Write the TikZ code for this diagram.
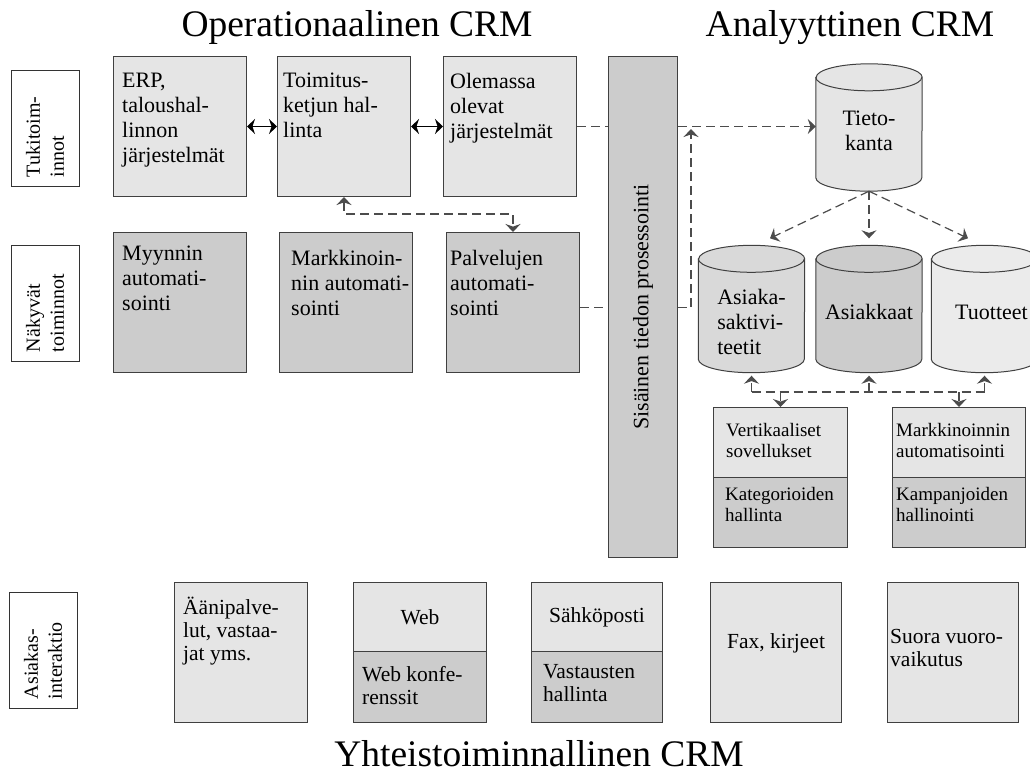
\documentclass[tikz,border=0pt]{standalone}
\usepackage{fontspec}
\setmainfont{Liberation Serif}
\usetikzlibrary{arrows.meta}

\definecolor{boxlight}{gray}{0.9}
\definecolor{boxmid}{gray}{0.8}
\definecolor{dbgray}{gray}{0.85}
\definecolor{dblight}{gray}{0.92}

\begin{document}
\begin{tikzpicture}[x=1pt,y=-1pt,
  >={Stealth[length=8pt,width=15pt]},
  box/.style={draw=black!75, line width=1pt, anchor=north west, inner sep=0pt,
    minimum width=133pt, minimum height=140pt},
  halfbox/.style={box, minimum height=70pt},
  db/.style={inner sep=0pt, minimum width=106pt, minimum height=127pt},
  side/.style={draw=black!80, line width=1pt, rotate=90, align=left,
    inner xsep=9pt, text width=98pt, minimum height=68pt,
    font=\fontsize{20}{24}\selectfont},
  txt/.style={anchor=north west, align=left, inner sep=0pt,
    font=\fontsize{22}{25}\selectfont},
  smalltxt/.style={txt, font=\fontsize{19}{21}\selectfont},
  lowtxt/.style={txt, font=\fontsize{21.5}{23}\selectfont},
  title/.style={anchor=base, font=\fontsize{37.5}{40}\selectfont},
  dashline/.style={draw=black!70, line width=1.2pt, dash pattern=on 9pt off 5pt},
  solidline/.style={draw=black, line width=1pt}]

\path[fill=white, use as bounding box] (0,0) rectangle (1030,774);

% titles
\node[title] (opcrm) at (357,36) {Operationaalinen CRM};
\node[title] (ancrm) at (850,36) {Analyyttinen CRM};
\node[title] (ytcrm) at (539,766) {Yhteistoiminnallinen CRM};

% row labels
\node[side] (tuki) at (45,128) {Tukitoim-\\innot};
\node[side] (nakyv) at (45,303) {Näkyvät\\toiminnot};
\node[side] (asint) at (43,650) {Asiakas-\\interaktio};

% support systems
\node[box, fill=boxlight] (erp) at (113,56) {};
\node[box, fill=boxlight] (toim) at (277,56) {};
\node[box, fill=boxlight] (olem) at (443,56) {};
\node[txt] (erptxt) at ([shift={(9,17)}]erp.north west) {ERP,\\taloushal-\\linnon\\järjestelmät};
\node[txt] (toimtxt) at ([shift={(6,17)}]toim.north west) {Toimitus-\\ketjun hal-\\linta};
\node[txt] (olemtxt) at ([shift={(7,17)}]olem.north west) {Olemassa\\olevat\\järjestelmät};

% visible functions
\node[box, fill=boxmid] (myyn) at (113,232) {};
\node[box, fill=boxmid] (mark) at (279,232) {};
\node[box, fill=boxmid] (palv) at (446,232) {};
\node[txt] (myyntxt) at ([shift={(9,14)}]myyn.north west) {Myynnin\\automati-\\sointi};
\node[txt] (marktxt) at ([shift={(12,18)}]mark.north west) {Markkinoin-\\nin automati-\\sointi};
\node[txt] (palvtxt) at ([shift={(4,18)}]palv.north west) {Palvelujen\\automati-\\sointi};

% internal processing bar
\node[box, fill=boxmid, minimum width=69pt, minimum height=501pt] (bar) at (608,56) {};
\node[rotate=90, font=\fontsize{22}{25}\selectfont] (bartxt) at (bar.center) {Sisäinen tiedon prosessointi};

% databases: node gives the anchors, the cylinder is drawn round it
\node[db] (tieto) at (869,127.5) {};
\node[db] (akt) at (751.5,309) {};
\node[db] (asi) at (869,309) {};
\node[db] (tuot) at (984.5,309) {};
\foreach \n/\f in {tieto/boxlight, akt/dbgray, asi/boxmid, tuot/dblight} {
  \filldraw[fill=\f, draw=black!75, line width=1pt]
    ([shift={(0,13.5)}]\n.north west) -- ([shift={(0,-13.5)}]\n.south west)
    arc[start angle=180, end angle=360, x radius=53pt, y radius=13.5pt]
    -- ([shift={(0,13.5)}]\n.north east)
    arc[start angle=0, end angle=180, x radius=53pt, y radius=13.5pt] -- cycle;
  \draw[draw=black!75, line width=1pt] ([shift={(0,13.5)}]\n.north west)
    arc[start angle=180, end angle=360, x radius=53pt, y radius=13.5pt];
}
\node[txt, anchor=center, align=center] (tietotxt) at ([shift={(0,3)}]tieto.center) {Tieto-\\kanta};
\node[txt, anchor=center] (akttxt) at ([shift={(0,13)}]akt.center) {Asiaka-\\saktivi-\\teetit};
\node[txt, anchor=center] (asitxt) at ([shift={(0,3)}]asi.center) {Asiakkaat};
\node[txt, anchor=center] (tuottxt) at ([shift={(7,3)}]tuot.center) {Tuotteet};

% analytic applications
\node[halfbox, fill=boxlight, minimum width=134pt] (vert) at (713,407) {};
\node[halfbox, fill=boxmid, minimum width=134pt] (kateg) at (713,477) {};
\node[halfbox, fill=boxlight] (mauto) at (892,407) {};
\node[halfbox, fill=boxmid] (kamp) at (892,477) {};
\node[smalltxt] (verttxt) at ([shift={(13,16)}]vert.north west) {Vertikaaliset\\sovellukset};
\node[smalltxt] (kategtxt) at ([shift={(12,10)}]kateg.north west) {Kategorioiden\\hallinta};
\node[smalltxt] (mautotxt) at ([shift={(4,16)}]mauto.north west) {Markkinoinnin\\automatisointi};
\node[smalltxt] (kamptxt) at ([shift={(4,10)}]kamp.north west) {Kampanjoiden\\hallinointi};

% customer interaction channels
\node[box, fill=boxlight] (aani) at (174,582) {};
\node[halfbox, fill=boxlight, minimum height=69pt] (web) at (353,582) {};
\node[halfbox, fill=boxmid, minimum height=71pt] (webk) at (353,651) {};
\node[halfbox, fill=boxlight, minimum width=131pt, minimum height=69pt] (sahko) at (531,582) {};
\node[halfbox, fill=boxmid, minimum width=131pt, minimum height=71pt] (vast) at (531,651) {};
\node[box, fill=boxlight, minimum width=131pt] (fax) at (710,582) {};
\node[box, fill=boxlight, minimum width=131pt] (suora) at (887,582) {};
\node[lowtxt] (aanitxt) at ([shift={(9,15)}]aani.north west) {Äänipalve-\\lut, vastaa-\\jat yms.};
\node[lowtxt, anchor=center] (webtxt) at (web.center) {Web};
\node[lowtxt] (webktxt) at ([shift={(9,15)}]webk.north west) {Web konfe-\\renssit};
\node[lowtxt, anchor=center] (sahkotxt) at (sahko.center) {Sähköposti};
\node[lowtxt] (vasttxt) at ([shift={(12,13)}]vast.north west) {Vastausten\\hallinta};
\node[lowtxt, anchor=center] (faxtxt) at ([shift={(0,-9)}]fax.center) {Fax, kirjeet};
\node[lowtxt] (suoratxt) at ([shift={(3,47)}]suora.north west) {Suora vuoro-\\vaikutus};

% links between the operative systems
\draw[solidline,<->] (erp) -- (toim);
\draw[solidline,<->] (toim) -- (olem);
\draw[dashline,<->] (toim.south) -- ++(0,17) -| (palv.north);

% flows through the processing bar
\coordinate (palvout) at ([shift={(0,5)}]palv.east);
\coordinate (upin) at (691,129);
\draw[dashline] (olem.east) -- (olem.east -| bar.west);
\draw[dashline,->] (olem.east -| bar.east) -- (olem.east -| tieto.west);
\draw[dashline] (palvout) -- (palvout -| bar.west);
\draw[dashline,->] (palvout -| bar.east) -| (upin);

% database to data marts
\draw[dashline,->] (tieto.south) -- ([shift={(18.5,-7)}]akt.north);
\draw[dashline,->] (tieto.south) -- ([shift={(0,-7)}]asi.north);
\draw[dashline,->] (tieto.south) -- ([shift={(-16.5,-7)}]tuot.north);

% data marts to applications
\coordinate (bus) at (0,392);
\draw[dashline] (akt.south |- bus) -- (tuot.south |- bus);
\foreach \c in {akt,asi,tuot}
  \draw[dashline,->,shorten >=3pt] (\c.south |- bus) -- (\c.south);
\foreach \b in {vert,mauto}
  \draw[dashline,->] (\b.north |- bus) -- (\b.north);

\end{tikzpicture}
\end{document}
